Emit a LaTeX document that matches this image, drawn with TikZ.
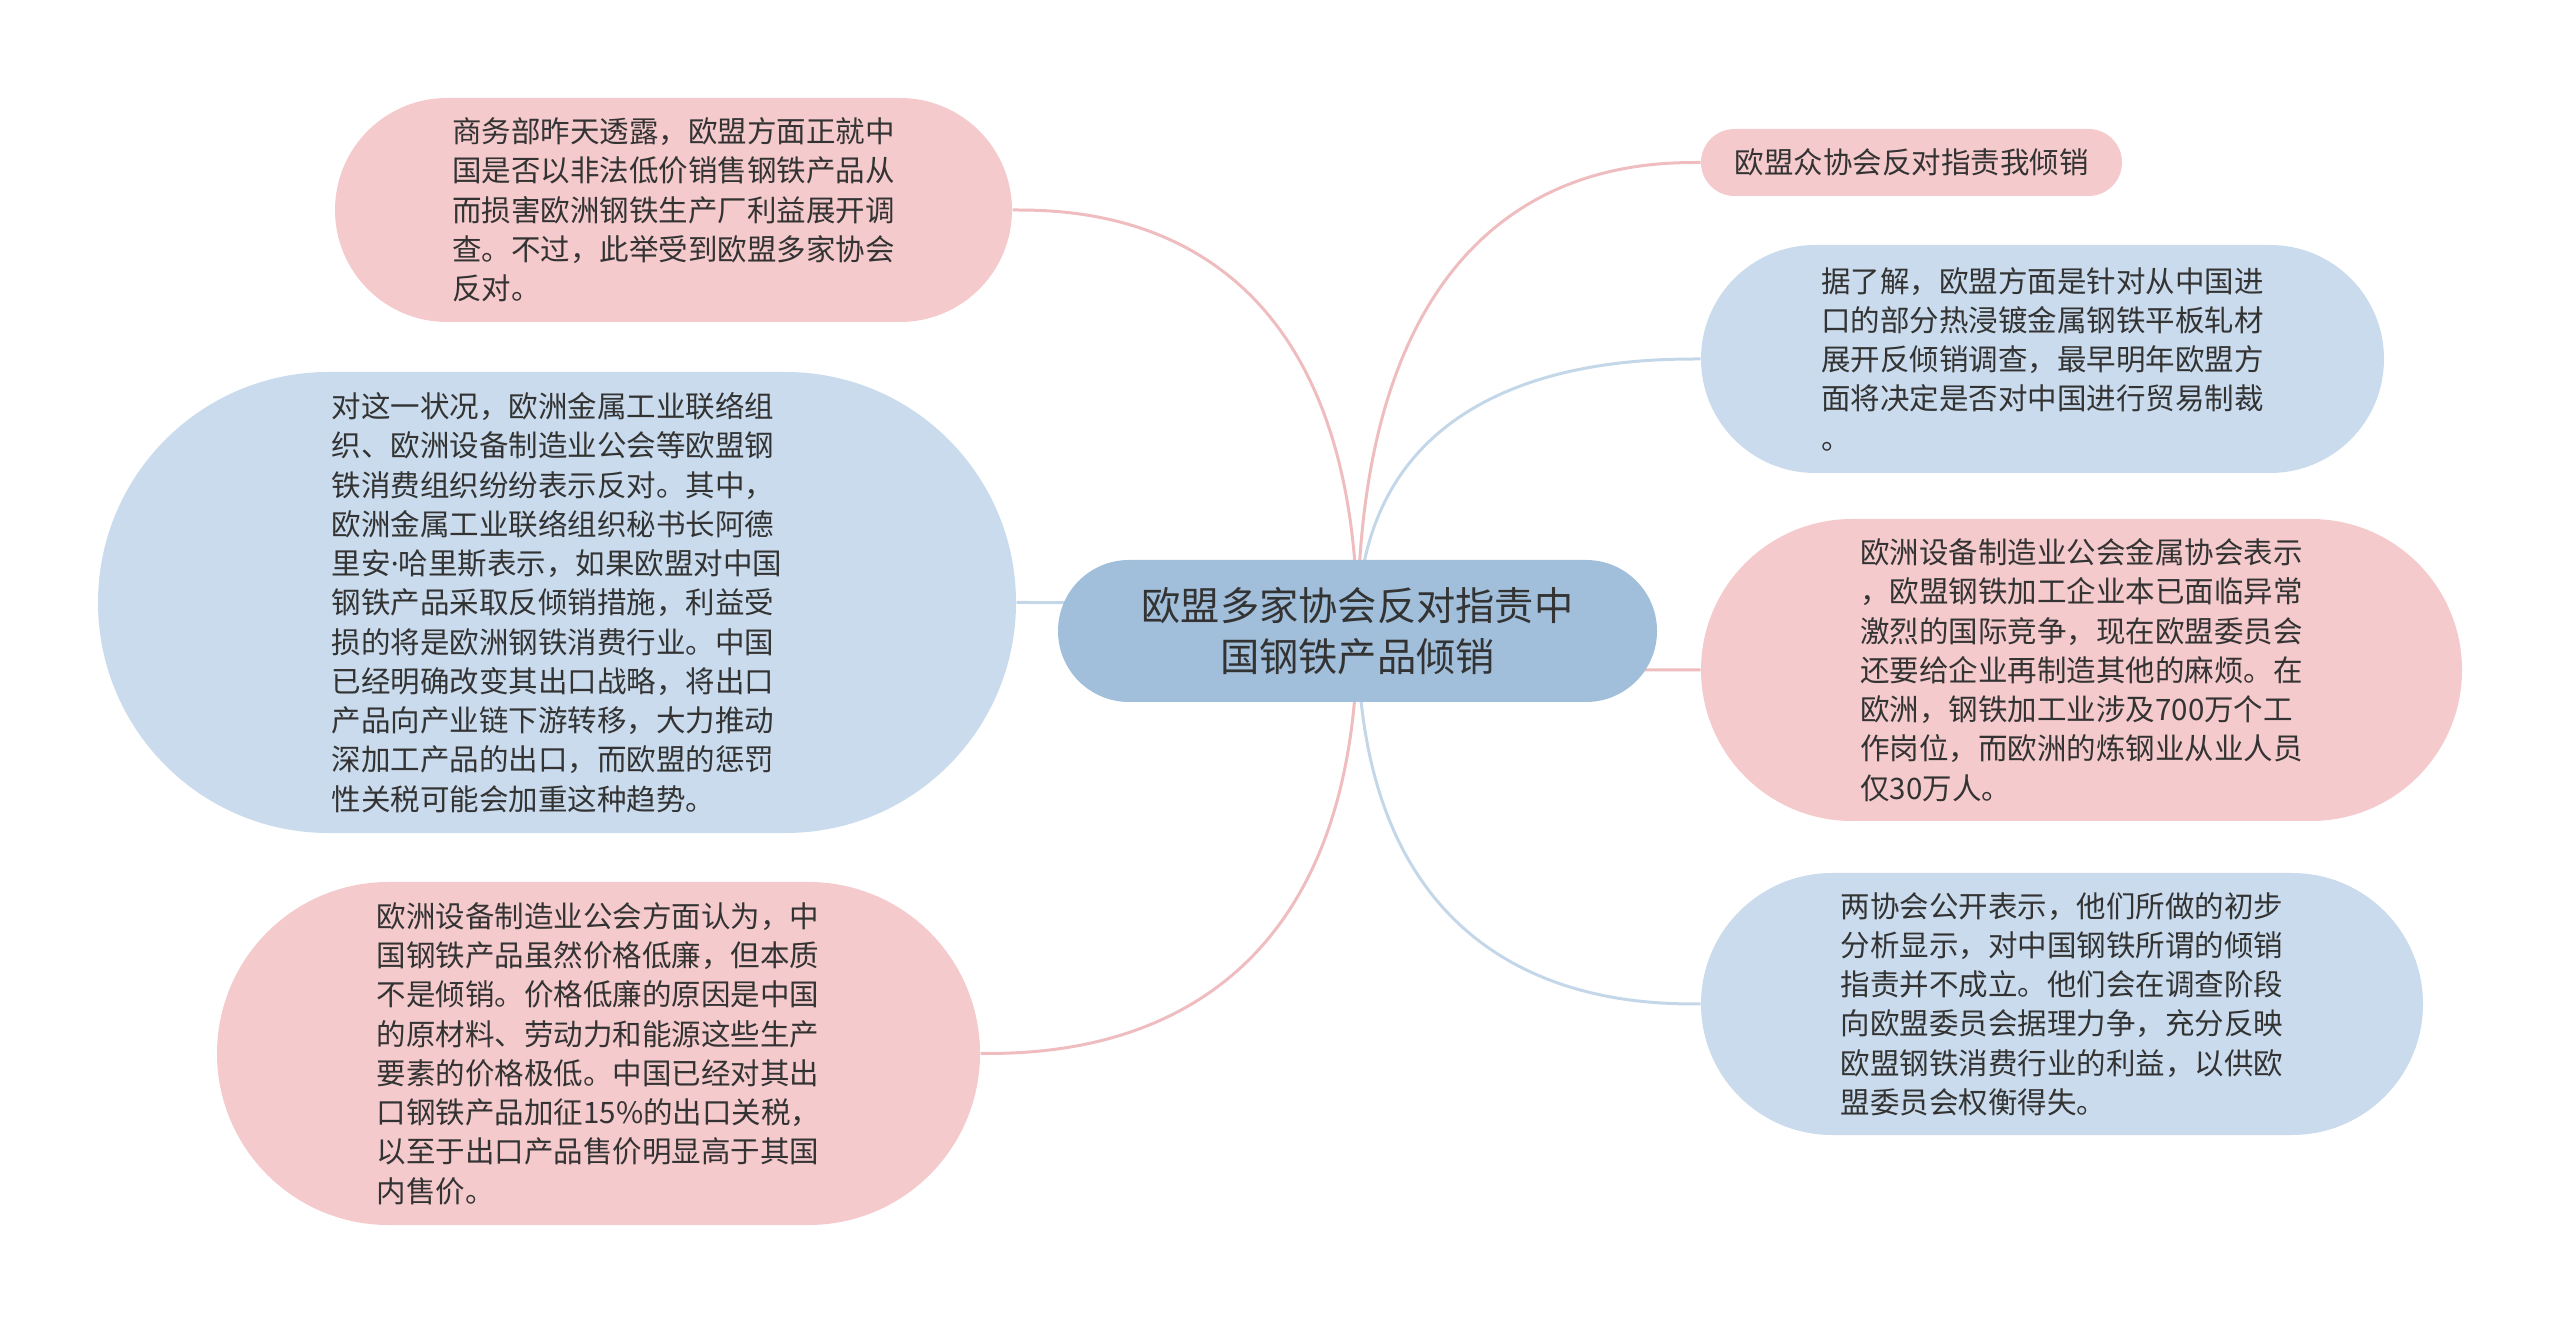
\documentclass[tikz,border=0pt]{standalone}
\usepackage{fontspec}
\setmainfont{Noto Sans CJK SC}
\newfontfamily\latinfont{Noto Sans}
\usepackage{tikz}
\usetikzlibrary{shapes.misc, backgrounds}
\definecolor{rootblue}{HTML}{A1BFDB}
\definecolor{notepink}{HTML}{F5CACC}
\definecolor{noteblue}{HTML}{C9DBEC}
\definecolor{linkpink}{HTML}{EFBDBF}
\definecolor{linkblue}{HTML}{C4D7E9}
\definecolor{inktext}{HTML}{333333}
\tikzset{
  topic/.style={rounded rectangle, fill=rootblue, text=inktext, align=center, inner sep=0pt, minimum width=239.6pt, minimum height=56.8pt, font=\fontsize{15.7}{20.2}\selectfont},
  note/.style={rounded rectangle, text=inktext, align=left, inner sep=0pt, font=\fontsize{11.8}{15.7}\selectfont},
  pinknote/.style={note, fill=notepink},
  bluenote/.style={note, fill=noteblue},
  pinklink/.style={draw=linkpink, line width=1.2pt},
  bluelink/.style={draw=linkblue, line width=1.2pt},
}
\begin{document}
\begin{tikzpicture}[x=0.4pt, y=0.4pt]
\useasboundingbox (0,0) rectangle (2560,-1323);
\node[topic] (root) at (1357.5,-631) {欧盟多家协会反对指责中\\国钢铁产品倾销};
% left side
\node[pinknote, minimum width=270.8pt, minimum height=89.6pt] (news) at (673.5,-210) {商务部昨天透露，欧盟方面正就中\\国是否以非法低价销售钢铁产品从\\而损害欧洲钢铁生产厂利益展开调\\查。不过，此举受到欧盟多家协会\\反对。};
\node[bluenote, minimum width=367.2pt, minimum height=184.4pt] (eubody) at (557,-602.5) {对这一状况，欧洲金属工业联络组\\织、欧洲设备制造业公会等欧盟钢\\铁消费组织纷纷表示反对。其中，\\欧洲金属工业联络组织秘书长阿德\\里安{\latinfont ·}哈里斯表示，如果欧盟对中国\\钢铁产品采取反倾销措施，利益受\\损的将是欧洲钢铁消费行业。中国\\已经明确改变其出口战略，将出口\\产品向产业链下游转移，大力推动\\深加工产品的出口，而欧盟的惩罚\\性关税可能会加重这种趋势。};
\node[pinknote, minimum width=305.2pt, minimum height=137.2pt] (makers) at (598.5,-1053.5) {欧洲设备制造业公会方面认为，中\\国钢铁产品虽然价格低廉，但本质\\不是倾销。价格低廉的原因是中国\\的原材料、劳动力和能源这些生产\\要素的价格极低。中国已经对其出\\口钢铁产品加征15\%的出口关税，\\以至于出口产品售价明显高于其国\\内售价。};
% right side
\node[pinknote, minimum width=168.4pt, minimum height=26.8pt] (title) at (1911.5,-162.5) {欧盟众协会反对指责我倾销};
\node[bluenote, minimum width=273.2pt, minimum height=91.2pt] (probe) at (2042.5,-359) {据了解，欧盟方面是针对从中国进\\口的部分热浸镀金属钢铁平板轧材\\展开反倾销调查，最早明年欧盟方\\面将决定是否对中国进行贸易制裁\\。};
\node[pinknote, minimum width=304.4pt, minimum height=120.8pt] (metal) at (2081.5,-670) {欧洲设备制造业公会金属协会表示\\，欧盟钢铁加工企业本已面临异常\\激烈的国际竞争，现在欧盟委员会\\还要给企业再制造其他的麻烦。在\\欧洲，钢铁加工业涉及700万个工\\作岗位，而欧洲的炼钢业从业人员\\仅30万人。};
\node[bluenote, minimum width=288.8pt, minimum height=104.8pt] (twoassoc) at (2062,-1004) {两协会公开表示，他们所做的初步\\分析显示，对中国钢铁所谓的倾销\\指责并不成立。他们会在调查阶段\\向欧盟委员会据理力争，充分反映\\欧盟钢铁消费行业的利益，以供欧\\盟委员会权衡得失。};
% curved links, drawn behind the boxes
\begin{scope}[on background layer]
\draw[pinklink](root.center) .. controls (root.center |- news.east) and +(69,0) .. (news.east);
\draw[bluelink](root.center) .. controls (root.center |- eubody.east) and +(68,0) .. (eubody.east);
\draw[pinklink](root.center) .. controls (root.center |- makers.east) and +(75,0) .. (makers.east);
\draw[pinklink](root.center) .. controls (root.center |- title.west) and +(-69,0) .. (title.west);
\draw[bluelink](root.center) .. controls (root.center |- probe.west) and +(-69,0) .. (probe.west);
\draw[pinklink](root.center) .. controls (root.center |- metal.west) and +(-69,0) .. (metal.west);
\draw[bluelink](root.center) .. controls (root.center |- twoassoc.west) and +(-69,0) .. (twoassoc.west);
\end{scope}
\end{tikzpicture}
\end{document}
